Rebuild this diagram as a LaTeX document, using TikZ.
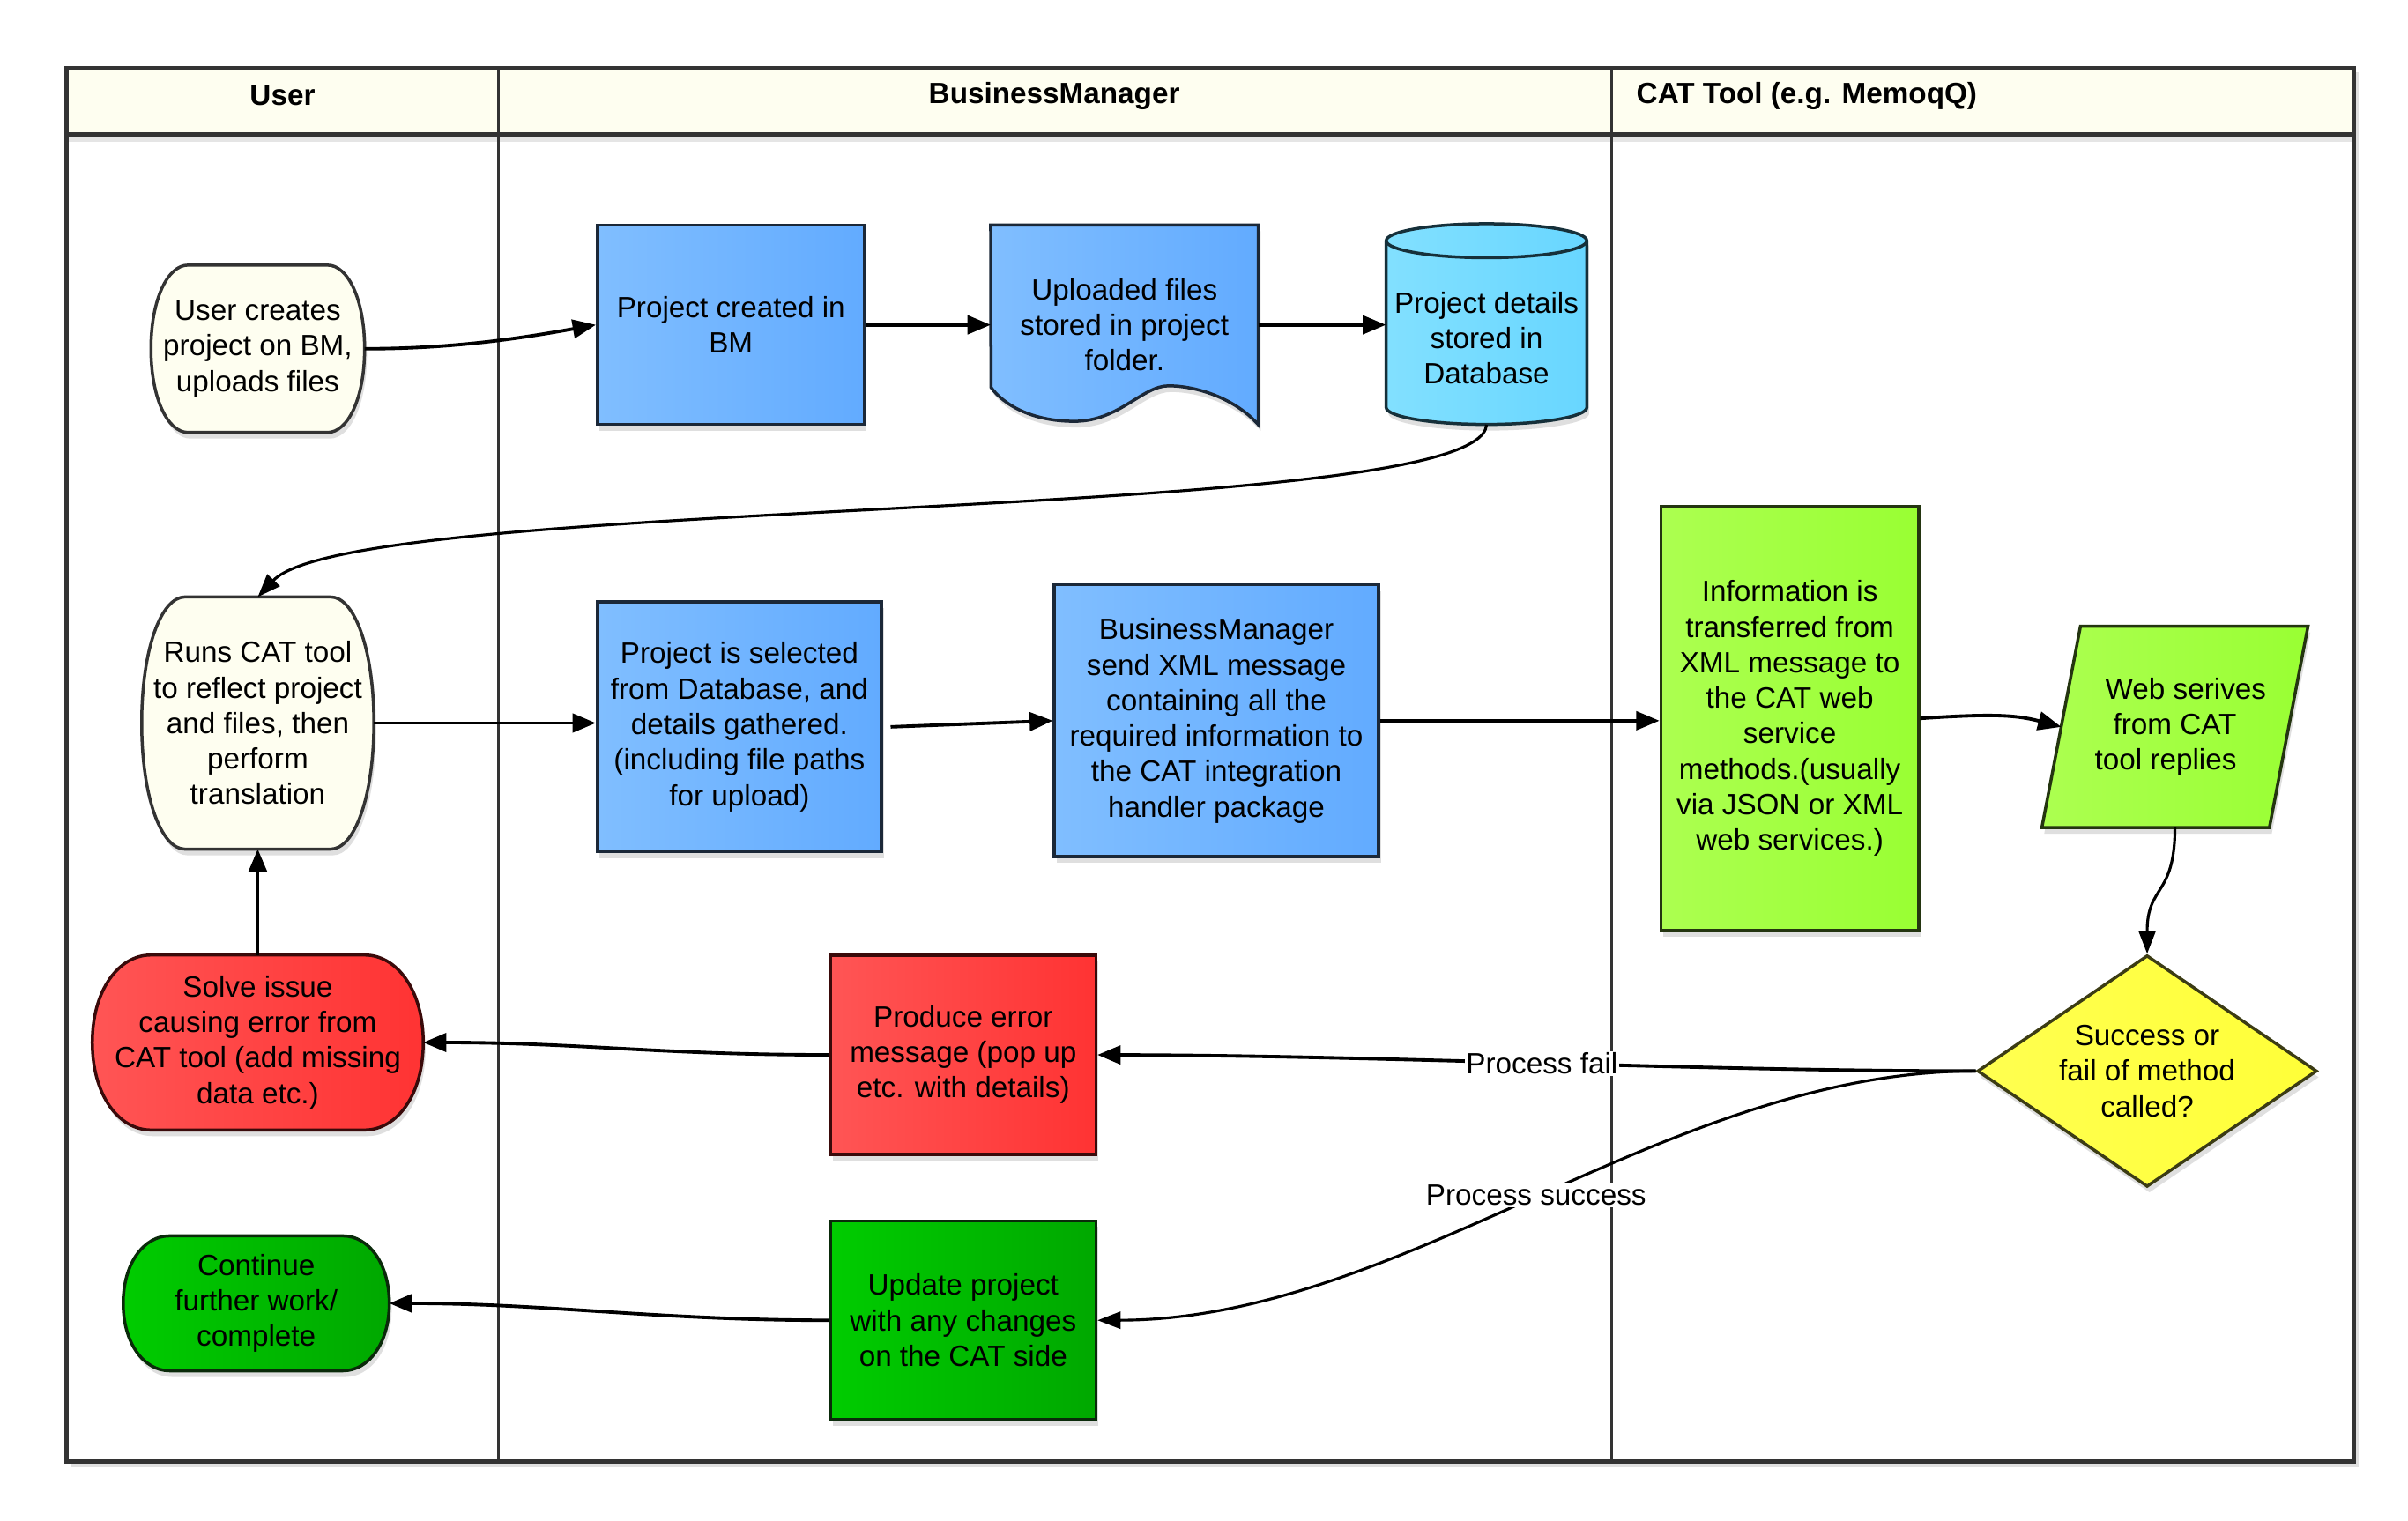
\documentclass[tikz,border=0pt]{standalone}
\usepackage{fontspec}
\setmainfont{Liberation Sans}
\usetikzlibrary{arrows.meta,shapes.geometric,shadows,calc}
\pgfdeclarelayer{lanes}
\pgfdeclarelayer{shapes}
\pgfsetlayers{lanes,shapes,main}

\definecolor{cream}{HTML}{FEFEF0}
\definecolor{creambd}{HTML}{333333}
\definecolor{headfill}{HTML}{FEFEF0}
\definecolor{lanebd}{HTML}{333333}
\definecolor{bluel}{HTML}{80BEFF}
\definecolor{blued}{HTML}{62ABFF}
\definecolor{bluebd}{HTML}{1B2838}
\definecolor{cyanl}{HTML}{82E0FF}
\definecolor{cyand}{HTML}{68D6FF}
\definecolor{cyanbd}{HTML}{16303A}
\definecolor{limel}{HTML}{ACFF50}
\definecolor{limed}{HTML}{99FF33}
\definecolor{limebd}{HTML}{243510}
\definecolor{yell}{HTML}{FFFF50}
\definecolor{yeld}{HTML}{FFFF38}
\definecolor{yelbd}{HTML}{3C3C14}
\definecolor{redl}{HTML}{FF5555}
\definecolor{redd}{HTML}{FF3333}
\definecolor{redbd}{HTML}{3A0A0A}
\definecolor{grnl}{HTML}{00CC00}
\definecolor{grnd}{HTML}{00A800}
\definecolor{grnbd}{HTML}{0A2A0A}

\tikzset{
  txt/.style={font=\fontsize{19}{23}\selectfont, align=center, inner sep=0pt},
  headtxt/.style={font=\fontsize{19}{23}\selectfont\bfseries, inner sep=0pt},
  shadowed/.style={drop shadow={shadow xshift=1.5pt,shadow yshift=-4pt,opacity=0.25}},
  plainnode/.style={txt, rectangle},
  box/.style={txt, rectangle, draw, line width=2pt, shadowed},
  bluebox/.style={box, draw=bluebd, left color=bluel, right color=blued},
  redbox/.style={box, draw=redbd, left color=redl, right color=redd},
  grnbox/.style={box, draw=grnbd, left color=grnl, right color=grnd},
  limebox/.style={box, draw=limebd, left color=limel, right color=limed},
  creamshape/.style={draw=creambd, line width=2pt, fill=cream, shadowed},
  redshape/.style={draw=redbd, line width=2pt, left color=redl, right color=redd, shadowed},
  grnshape/.style={draw=grnbd, line width=2pt, left color=grnl, right color=grnd, shadowed},
  blueshape/.style={draw=bluebd, line width=2pt, left color=bluel, right color=blued, shadowed},
  cyanshape/.style={draw=cyanbd, line width=2pt, left color=cyanl, right color=cyand, shadowed},
  limeshape/.style={draw=limebd, line width=2pt, left color=limel, right color=limed, shadowed},
  conn/.style={line width=2.2pt, -{Triangle[length=15pt,width=12pt]}},
  connlight/.style={line width=1.8pt, -{Triangle[length=15pt,width=11pt]}},
  lbl/.style={font=\fontsize{19}{23}\selectfont, fill=white, inner sep=1pt},
}

% outline with bulging sides around a plain node
% #1 node, #2 bulge (pt), #3 vertical control length, #4 style
\newcommand{\bulgeoutline}[4]{%
  \path[#4] ([xshift=#2pt]#1.north west) -- ([xshift=-#2pt]#1.north east)
    .. controls +({0.55*#2},0) and +(0,{#3}) .. (#1.east)
    .. controls +(0,{-#3}) and +({0.55*#2},0) .. ([xshift=-#2pt]#1.south east)
    -- ([xshift=#2pt]#1.south west)
    .. controls +({-0.55*#2},0) and +(0,{-#3}) .. (#1.west)
    .. controls +(0,{#3}) and +({-0.55*#2},0) .. ([xshift=#2pt]#1.north west) -- cycle;}

\begin{document}
\begin{tikzpicture}[x=1pt,y=1pt]
\useasboundingbox (0,0) rectangle (1560,-985);

% ---------------- swimlanes ----------------
\begin{pgfonlayer}{lanes}
  \fill[white] (0,0) rectangle (1560,-985);
  \fill[black!12] (46,-947) rectangle (1528,-951);
  \fill[black!12] (1525,-47) rectangle (1528,-951);
  \fill[headfill] (43,-44) rectangle (1525,-87);
  \fill[black!10] (44,-88) rectangle (1524,-92);
  \draw[lanebd, line width=2pt] (323,-44) -- (323,-947);
  \draw[lanebd, line width=2pt] (1044,-44) -- (1044,-947);
  \draw[lanebd, line width=2.8pt] (43,-87) -- (1525,-87);
  \draw[lanebd, line width=2.8pt] (43,-44) rectangle (1525,-947);
\end{pgfonlayer}

\node[headtxt] (hUser) at (183,-62) {User};
\node[headtxt] (hBM) at (683,-62) {BusinessManager};
\node[headtxt, anchor=west] (hCAT) at (1060,-62) {CAT Tool (e.g. MemoqQ)};

% ---------------- nodes ----------------
\node[plainnode, minimum width=138pt, minimum height=108pt] (uc) at (167,-226)
  {User creates\\project on BM,\\uploads files};
\node[bluebox, minimum width=173pt, minimum height=129pt] (pc) at (473.5,-210.5)
  {Project created in\\BM};
\node[plainnode, minimum width=173pt, minimum height=129pt] (up) at (728.5,-210.5)
  {Uploaded files\\stored in project\\folder.};
\node[plainnode, minimum width=130pt, minimum height=112pt] (db) at (963,-219)
  {Project details\\stored in\\Database};

\node[plainnode, minimum width=150pt, minimum height=163pt] (runs) at (167,-468.5)
  {Runs CAT tool\\to reflect project\\and files, then\\perform\\translation};
\node[bluebox, minimum width=184pt, minimum height=162pt] (sel) at (479,-471)
  {Project is selected\\from Database, and\\details gathered.\\(including file paths\\for upload)};
\node[bluebox, minimum width=210pt, minimum height=176pt] (bm) at (788,-467)
  {BusinessManager\\send XML message\\containing all the\\required information to\\the CAT integration\\handler package};
\node[limebox, minimum width=167pt, minimum height=275pt] (info) at (1159.5,-465.5)
  {Information is\\transferred from\\XML message to\\the CAT web\\service\\methods.(usually\\via JSON or XML\\web services.)};
\node[plainnode, minimum width=172pt, minimum height=130pt] (web) at (1409,-471)
  {\mbox{}\hspace{14pt}Web serives\\from CAT\\tool replies\hspace{12pt}\mbox{}};

\node[txt, diamond, aspect=1.4667, minimum width=220pt, minimum height=150pt,
      draw=yelbd, line width=2pt, left color=yell, right color=yeld, shadowed] (dec) at (1391,-694)
  {Success or\\fail of method\\called?};

\node[plainnode, minimum width=214pt, minimum height=113pt] (solve) at (167,-675.5)
  {Solve issue\\causing error from\\CAT tool (add missing\\data etc.)};
\node[redbox, minimum width=172pt, minimum height=129pt] (prod) at (624,-683.5)
  {Produce error\\message (pop up\\etc. with details)};

\node[plainnode, minimum width=172pt, minimum height=87pt] (cont) at (166,-844.5)
  {Continue\\further work/\\complete};
\node[grnbox, minimum width=172pt, minimum height=129pt] (upd) at (624,-855.5)
  {Update project\\with any changes\\on the CAT side};

% ---------------- custom outlines ----------------
\begin{pgfonlayer}{shapes}
  \bulgeoutline{uc}{24}{32}{creamshape}
  \bulgeoutline{runs}{28}{48}{creamshape}
  \bulgeoutline{solve}{38}{34}{redshape}
  \bulgeoutline{cont}{30}{26}{grnshape}
  % document shape
  \path[blueshape] (up.north west) -- (up.north east) -- (up.south east)
    .. controls (800,-258) and (775,-250) .. (757,-250)
    .. controls (740,-250) and (725,-273) .. (696,-273)
    .. controls (668,-273) and (650,-262) .. (642,-251) -- cycle;
  % cylinder
  \path[cyanshape] (898,-156) -- (898,-264)
    .. controls (898,-270) and (927,-275) .. (963,-275)
    .. controls (999,-275) and (1028,-270) .. (1028,-264) -- (1028,-156)
    .. controls (1028,-150) and (999,-145) .. (963,-145)
    .. controls (927,-145) and (898,-150) .. (898,-156) -- cycle;
  \draw[cyanbd, line width=2pt] (898,-156)
    .. controls (898,-162) and (927,-167) .. (963,-167)
    .. controls (999,-167) and (1028,-162) .. (1028,-156);
  % parallelogram
  \path[limeshape] (web.south west) -- ([xshift=-25pt]web.south east)
    -- (web.north east) -- ([xshift=25pt]web.north west) -- cycle;
\end{pgfonlayer}

% ---------------- connectors ----------------
\draw[conn] (uc.east) .. controls +(60,0) and +(-45,-8) .. (pc.west);
\draw[conn] (pc.east) -- (up.west);
\draw[conn] (up.east) -- (up.east -| db.west);
\draw[connlight] (db.south) .. controls (960,-340) and (230,-320) .. (runs.north);
\draw[conn] (runs.east) -- (runs.east -| sel.west);
\draw[conn] ([xshift=5pt]sel.east) -- (bm.west);
\draw[conn] (bm.east) -- (bm.east -| info.west);
\draw[conn] (info.east) .. controls +(45,3) and +(-30,8) .. ([xshift=12.5pt]web.west);
\draw[connlight] (web.south) .. controls +(0,-45) and +(0,45) .. (dec.north);
\draw[conn] (dec.west) .. controls (1100,-694) and (900,-684) .. (prod.east)
  node[lbl, midway] {Process fail};
\draw[connlight] (dec.west) .. controls (1080,-694) and (910,-855) .. (upd.east)
  node[lbl, midway] {Process success};
\draw[conn] (prod.west) .. controls +(-110,0) and +(100,0) .. (solve.east);
\draw[conn] (upd.west) .. controls +(-110,0) and +(100,0) .. (cont.east);
\draw[conn] (solve.north) -- (runs.south);
\end{tikzpicture}
\end{document}
